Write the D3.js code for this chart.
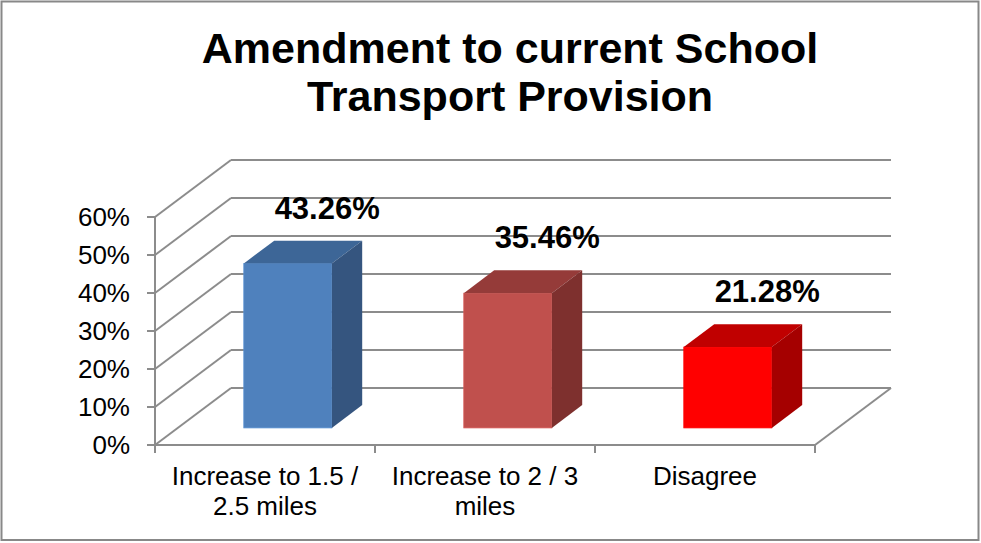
<!DOCTYPE html>
<html><head><meta charset="utf-8">
<script src="https://cdn.jsdelivr.net/npm/d3@7"></script>
<style>html,body{margin:0;padding:0;background:#fff;}svg{display:block;}</style>
</head><body>
<script>
// ---- data ----
const titleLines = ["Amendment to current School", "Transport Provision"];
const categories = [["Increase to 1.5 /", "2.5 miles"], ["Increase to 2 / 3", "miles"], ["Disagree"]];
const values = [0.4326, 0.3546, 0.2128];
const valueLabels = ["43.26%", "35.46%", "21.28%"];
const tickValues = [0, 0.1, 0.2, 0.3, 0.4, 0.5, 0.6];
const frontColors = ["#4F81BD", "#C0504D", "#FF0000"];
const topColors = ["#3D6697", "#953B39", "#C00000"];
const sideColors = ["#35557F", "#7E302E", "#A50000"];

const W = 981, H = 543;
const svg = d3.select("body").append("svg").attr("width", W).attr("height", H);

// border
svg.append("rect").attr("x", 1.5).attr("y", 1.5).attr("width", 977).attr("height", 538.5)
  .attr("fill", "#fff").attr("stroke", "#888").attr("stroke-width", 2);

// title
const FONT = "'Liberation Sans', Arial, sans-serif";
titleLines.forEach((t, i) => {
  svg.append("text").attr("x", 510).attr("y", 63 + i * 48)
    .attr("text-anchor", "middle").attr("font-family", FONT).attr("font-weight", "bold")
    .attr("font-size", 43).attr("fill", "#000").text(t);
});

// 3D geometry
const x0 = 155, x1 = 815;
const DX = 76, DY = -57;
const y = d3.scaleLinear().domain([0, 0.6]).range([445, 217]);
const xb = d3.scaleBand().domain(d3.range(categories.length)).range([x0, x1]).paddingInner(0.6).paddingOuter(0.3);
const xc = d3.scaleBand().domain(d3.range(categories.length)).range([x0, x1]);
const d1 = 0.3, d2 = 0.7; // bar depth fraction

const grid = svg.append("g").attr("stroke", "#8C8C8C").attr("stroke-width", 2).attr("fill", "none");
// back wall gridlines + side wall diagonals
tickValues.forEach(v => {
  grid.append("line").attr("x1", x0 + DX).attr("y1", y(v) + DY).attr("x2", x1 + DX).attr("y2", y(v) + DY);
  grid.append("line").attr("x1", x0).attr("y1", y(v)).attr("x2", x0 + DX).attr("y2", y(v) + DY);
});
// floor edges
grid.append("line").attr("x1", x0).attr("y1", y(0)).attr("x2", x1).attr("y2", y(0));
grid.append("line").attr("x1", x1).attr("y1", y(0)).attr("x2", x1 + DX).attr("y2", y(0) + DY);
// vertical axis line
grid.append("line").attr("x1", x0).attr("y1", y(0)).attr("x2", x0).attr("y2", y(0.6));
// y ticks
tickValues.forEach(v => {
  grid.append("line").attr("x1", x0 - 8).attr("y1", y(v)).attr("x2", x0).attr("y2", y(v));
});
// x ticks
d3.range(categories.length + 1).forEach(i => {
  const xx = x0 + i * xc.step();
  grid.append("line").attr("x1", xx).attr("y1", y(0)).attr("x2", xx).attr("y2", y(0) + 8);
});

// y labels
tickValues.forEach(v => {
  svg.append("text").attr("x", 130).attr("y", y(v) + 9)
    .attr("text-anchor", "end").attr("font-family", FONT).attr("font-size", 26)
    .attr("fill", "#000").text(d3.format(".0%")(v));
});

// bars
const bars = svg.append("g");
values.forEach((v, i) => {
  const bx = xb(i), bw = xb.bandwidth();
  const fx = bx + DX * d1, fy0 = y(0) + DY * d1, fy1 = y(v) + DY * d1;
  const ddx = DX * (d2 - d1), ddy = DY * (d2 - d1);
  // front
  bars.append("rect").attr("x", fx).attr("y", fy1).attr("width", bw).attr("height", fy0 - fy1)
    .attr("fill", frontColors[i]).attr("stroke", d3.color(frontColors[i]).brighter(0.3)).attr("stroke-width", 0.8);
  // top
  bars.append("path").attr("d", `M${fx},${fy1}L${fx + ddx},${fy1 + ddy}L${fx + bw + ddx},${fy1 + ddy}L${fx + bw},${fy1}Z`)
    .attr("fill", topColors[i]);
  // side
  bars.append("path").attr("d", `M${fx + bw},${fy1}L${fx + bw + ddx},${fy1 + ddy}L${fx + bw + ddx},${fy0 + ddy}L${fx + bw},${fy0}Z`)
    .attr("fill", sideColors[i]);
  // value label
  const lx = xb(i) + bw / 2 + DX * d2 + 9;
  const ly = y(v) + DY * d2 - 22;
  svg.append("text").attr("x", lx).attr("y", ly)
    .attr("text-anchor", "middle").attr("font-family", FONT).attr("font-weight", "bold")
    .attr("font-size", 31).attr("fill", "#000").text(valueLabels[i]);
});

// category labels
categories.forEach((lines, i) => {
  lines.forEach((t, j) => {
    svg.append("text").attr("x", xc(i) + xc.bandwidth() / 2).attr("y", 485 + j * 30)
      .attr("text-anchor", "middle").attr("font-family", FONT).attr("font-size", 26)
      .attr("fill", "#000").text(t);
  });
});
</script>
</body></html>
